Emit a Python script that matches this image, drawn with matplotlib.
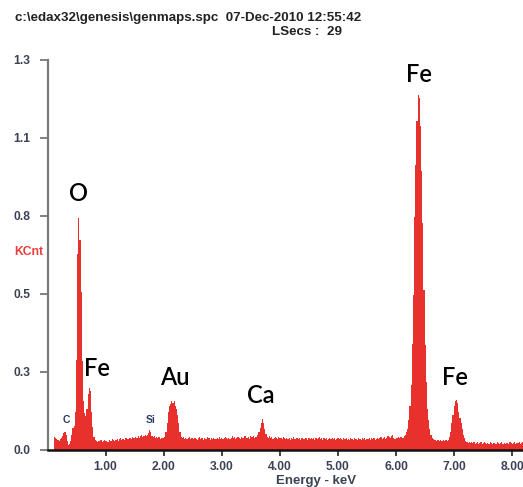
import numpy as np
import matplotlib
matplotlib.use('Agg')
import matplotlib.pyplot as plt

# EDS spectrum, counts in milli-KCnt, 0.02 keV channels starting at 0.12 keV
e_start = 0.12
e_step = 0.02
counts = [
    44, 42, 38, 34, 30, 36, 42, 48, 58, 62,            # 0.12
    50, 30, 18, 20, 30, 50, 75, 80, 130, 305,          # 0.32
    665, 784, 710, 536, 300, 167, 125, 115, 140, 190,  # 0.52
    211, 200, 130, 78, 45, 33, 30, 27, 31, 29,         # 0.72
    33, 28, 30, 35, 29, 32, 27, 34, 31, 30,            # 0.92
    36, 33, 29, 35, 38, 32, 36, 40, 34, 37,            # 1.12
    35, 39, 42, 36, 38, 41, 37, 44, 40, 39,            # 1.32
    45, 42, 48, 40, 46, 50, 43, 47, 52, 48,            # 1.52
    50, 58, 68, 62, 48, 44, 47, 41, 45, 40,            # 1.72
    43, 38, 41, 42, 40, 45, 60, 90, 130, 150,          # 1.92
    155, 165, 160, 165, 150, 140, 120, 90, 60, 45,     # 2.12
    40, 44, 38, 42, 36, 40, 43, 37, 41, 39,            # 2.32
    36, 42, 38, 35, 40, 44, 37, 39, 35, 41,            # 2.52
    38, 36, 43, 39, 35, 40, 37, 42, 38, 36,            # 2.72
    40, 37, 44, 38, 41, 36, 39, 45, 40, 38,            # 2.92
    42, 37, 40, 46, 39, 43, 38, 41, 44, 40,            # 3.12
    38, 45, 41, 39, 47, 42, 40, 44, 38, 46,            # 3.32
    43, 48, 41, 45, 45, 50, 60, 75, 90, 105,           # 3.52
    90, 70, 55, 45, 42, 46, 40, 44, 38, 42,            # 3.72
    45, 40, 37, 43, 39, 41, 36, 44, 40, 38,            # 3.92
    42, 37, 40, 35, 41, 38, 44, 36, 39, 42,            # 4.12
    37, 40, 35, 42, 38, 36, 41, 39, 34, 40,            # 4.32
    38, 42, 36, 39, 35, 41, 37, 40, 43, 36,            # 4.52
    39, 35, 40, 37, 42, 34, 38, 41, 36, 39,            # 4.72
    37, 41, 35, 38, 40, 36, 42, 37, 34, 39,            # 4.92
    36, 40, 34, 38, 35, 41, 37, 33, 39, 36,            # 5.12
    38, 35, 40, 36, 33, 39, 37, 41, 35, 38,            # 5.32
    36, 40, 34, 39, 37, 42, 35, 38, 41, 37,            # 5.52
    39, 43, 37, 40, 45, 38, 42, 48, 44, 40,            # 5.72
    46, 50, 42, 38, 41, 39, 44, 40, 43, 45,            # 5.92
    42, 46, 50, 60, 70, 100, 150, 220, 360, 525,       # 6.12
    790, 965, 1115, 1200, 1190, 1095, 945, 770, 540, 355,  # 6.32
    230, 140, 100, 70, 50, 40, 36, 33, 35, 31,         # 6.52
    34, 30, 33, 29, 32, 35, 30, 33, 31, 35,            # 6.72
    45, 60, 90, 120, 150, 165, 170, 160, 130, 110,     # 6.92
    90, 70, 50, 40, 30, 27, 25, 28, 24, 26,            # 7.12
    23, 27, 22, 25, 28, 21, 24, 26, 22, 25,            # 7.32
    27, 23, 20, 25, 22, 26, 24, 21, 25, 23,            # 7.52
    22, 26, 24, 20, 23, 27, 21, 24, 22, 25,            # 7.72
    24, 21, 26, 23, 20, 24, 27, 22, 25, 23,            # 7.92
    26, 22, 24, 27,                                    # 8.12
]
assert len(counts) == 404

big_labels = ['O', 'Fe', 'Au', 'Ca', 'Fe', 'Fe']
big_label_e = [0.525, 0.852, 2.186, 3.675, 6.394, 7.022]
big_label_k = [0.843, 0.250, 0.220, 0.159, 1.245, 0.220]
small_labels = ['C', 'Si']
small_label_e = [0.318, 1.773]
small_label_k = [0.091, 0.091]

x_ticks = [1, 2, 3, 4, 5, 6, 7, 8]
y_top = 1.32
y_ticks = [0, 0.264, 0.528, 0.792, 1.056, 1.32]

kcnt = np.array(counts) / 1000.
edges = e_start - e_step / 2 + e_step * np.arange(len(counts) + 1)

W, H = 523, 487
fig = plt.figure(figsize=(W / 100., H / 100.), dpi=100)
ax = fig.add_axes([47.5 / W, (H - 450.) / H, 1 - 47.5 / W, 390. / H])

ax.stairs(kcnt, edges, fill=True, color='#e8302c', linewidth=0)

ax.set_xlim(0, (W - 47.5) / 58.1)
ax.set_ylim(0, y_top)

tick_col = '#3c4256'
ax.set_xticks(x_ticks)
ax.set_xticklabels(['%.2f' % t for t in x_ticks])
ax.set_yticks(y_ticks)
ax.set_yticklabels(['%.1f' % t for t in y_ticks])
for lab in ax.get_xticklabels() + ax.get_yticklabels():
    lab.set_fontfamily('Liberation Sans')
    lab.set_fontweight('bold')
    lab.set_fontsize(8.7)
    lab.set_color(tick_col)
ax.tick_params(axis='x', length=4, width=1.3, color='#333333', pad=4)
ax.tick_params(axis='y', length=6, width=1.3, color='#777777', pad=6.5)

for s in ['top', 'right']:
    ax.spines[s].set_visible(False)
ax.spines['left'].set_color('#7a7a7a')
ax.spines['left'].set_linewidth(1.6)
ax.spines['bottom'].set_color('#111111')
ax.spines['bottom'].set_linewidth(1.8)

for t, e, k in zip(big_labels, big_label_e, big_label_k):
    ax.text(e, k, t, ha='center', va='baseline', fontsize=17,
            family='Lato', fontweight='semibold', color='black')
for t, e, k in zip(small_labels, small_label_e, small_label_k):
    ax.text(e, k, t, ha='center', va='baseline', fontsize=7.5,
            family='Liberation Sans', fontweight='bold', color='#2c3a66')

fig.text(316. / W, 1 - 481. / H, 'Energy - keV', ha='center', va='center',
         fontsize=9.5, family='Liberation Sans', fontweight='bold', color=tick_col)
fig.text(29. / W, 1 - 252. / H, 'KCnt', ha='center', va='center',
         fontsize=8.7, family='Liberation Sans', fontweight='bold', color='#ee3b3b')

fig.text(15. / W, 1 - 18. / H, 'c:\\edax32\\genesis\\genmaps.spc  07-Dec-2010 12:55:42',
         ha='left', va='center', fontsize=9.6, family='Liberation Sans',
         fontweight='bold', color='#222222')
fig.text(342. / W, 1 - 32. / H, 'LSecs :  29', ha='right', va='center',
         fontsize=9.6, family='Liberation Sans', fontweight='bold', color='#222222')

fig.savefig('out.png', dpi=100)
